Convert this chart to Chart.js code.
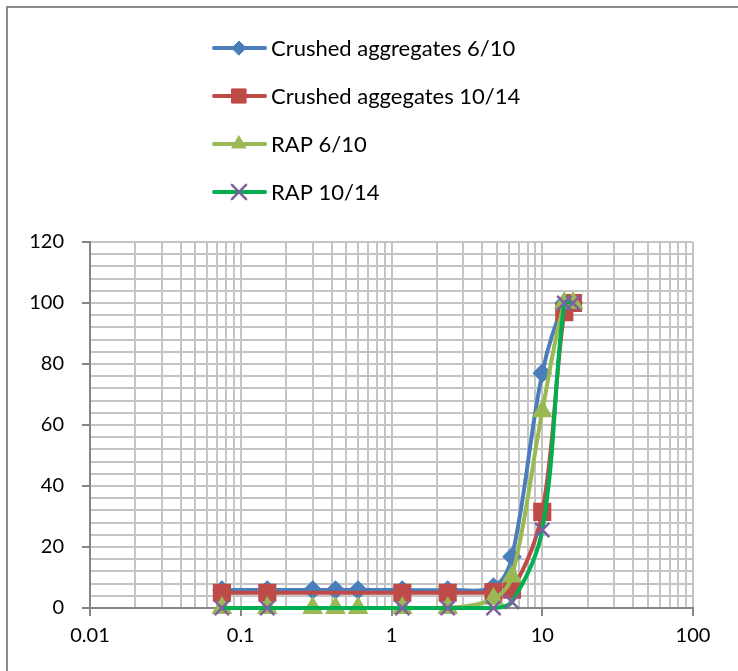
<!DOCTYPE html>
<html>
<head>
<meta charset="utf-8">
<script src="https://cdn.jsdelivr.net/npm/chart.js@4.4.1/dist/chart.umd.min.js"></script>
<style>
  html, body { margin: 0; padding: 0; background: #fff; }
  #wrap { width: 738px; height: 671px; position: relative; }
</style>
</head>
<body>
<div id="wrap"><canvas id="gradingChart" width="738" height="671"></canvas></div>
<script>
// sieve sizes (mm)
const sizes610 = [0.075, 0.15, 0.3, 0.425, 0.6, 1.18, 2.36, 4.75, 6.3, 10, 14, 16];
const sizes1014 = [0.075, 0.15, 1.18, 2.36, 4.75, 6.3, 10, 14, 16];

// percent passing
const crushed610 = [5.9, 5.9, 5.9, 5.9, 5.9, 5.9, 5.9, 6.9, 16.8, 77, 100, 100];
const crushed1014 = [5, 5, 5, 5, 5.2, 6, 31.5, 97, 100];
const rap610 = [0, 0, 0, 0, 0, 0, 0, 3, 10.3, 64.5, 100, 100];
const rap1014 = [0, 0, 0, 0, 0, 2, 25.6, 100, 100];

const seriesNames = ['Crushed aggregates 6/10', 'Crushed aggegates 10/14', 'RAP 6/10', 'RAP 10/14'];
const yMajor = [0, 20, 40, 60, 80, 100, 120];
const xMajor = [0.01, 0.1, 1, 10, 100];

const FONT = 'Lato, "Open Sans", sans-serif';
const toPoints = (xs, ys) => xs.map((x, i) => ({ x: x, y: ys[i] }));

// Legend drawn by hand: one item per line, like the original
const stackedLegend = {
    id: 'stackedLegend',
    afterDraw(chart) {
        const ctx = chart.ctx;
        ctx.save();
        chart.data.datasets.forEach((ds, i) => {
            const y = 48 + i * 48;
            ctx.strokeStyle = ds.borderColor;
            ctx.lineWidth = 4;
            ctx.lineCap = 'round';
            ctx.beginPath();
            ctx.moveTo(214, y);
            ctx.lineTo(265, y);
            ctx.stroke();
            ctx.fillStyle = ds.pointBackgroundColor;
            ctx.strokeStyle = ds.pointBorderColor;
            ctx.lineWidth = ds.pointBorderWidth || 1;
            Chart.helpers.drawPoint(ctx, {
                pointStyle: ds.pointStyle,
                radius: ds.pointRadius,
                rotation: 0,
                borderWidth: ds.pointBorderWidth || 1
            }, 239, y);
            ctx.fillStyle = '#000';
            ctx.font = '22px ' + FONT;
            ctx.textBaseline = 'middle';
            ctx.textAlign = 'left';
            ctx.fillText(seriesNames[i], 271, y + 1);
        });
        // outer frame
        ctx.strokeStyle = '#8c8c8c';
        ctx.lineWidth = 2;
        ctx.strokeRect(7, 7, 760, 700);
        ctx.restore();
    }
};

const gridColor = '#c4c4c4';

new Chart(document.getElementById('gradingChart').getContext('2d'), {
    type: 'line',
    data: {
        datasets: [
            {
                label: seriesNames[0],
                data: toPoints(sizes610, crushed610),
                borderColor: '#4a7ebb',
                backgroundColor: '#4a7ebb',
                pointBackgroundColor: '#4a7ebb',
                pointBorderColor: '#4a7ebb',
                pointStyle: 'rectRot',
                pointRadius: 7,
                borderWidth: 4,
                tension: 0.35,
                clip: false,
                order: 4
            },
            {
                label: seriesNames[1],
                data: toPoints(sizes1014, crushed1014),
                borderColor: '#be4b48',
                backgroundColor: '#be4b48',
                pointBackgroundColor: '#be4b48',
                pointBorderColor: '#be4b48',
                pointStyle: 'rect',
                pointRadius: 10,
                borderWidth: 4,
                tension: 0.35,
                clip: false,
                order: 3
            },
            {
                label: seriesNames[2],
                data: toPoints(sizes610, rap610),
                borderColor: '#98b954',
                backgroundColor: '#98b954',
                pointBackgroundColor: '#98b954',
                pointBorderColor: '#98b954',
                pointStyle: 'triangle',
                pointRadius: 8,
                borderWidth: 4,
                tension: 0.35,
                clip: false,
                order: 2
            },
            {
                label: seriesNames[3],
                data: toPoints(sizes1014, rap1014),
                borderColor: '#00b050',
                backgroundColor: '#7d60a0',
                pointBackgroundColor: '#7d60a0',
                pointBorderColor: '#7d60a0',
                pointBorderWidth: 2.5,
                pointStyle: 'crossRot',
                pointRadius: 10,
                borderWidth: 4,
                tension: 0.35,
                clip: false,
                order: 1
            }
        ]
    },
    options: {
        responsive: false,
        animation: false,
        layout: { padding: { top: 242, right: 45, left: 0, bottom: 0 } },
        plugins: {
            legend: { display: false },
            tooltip: { enabled: false }
        },
        scales: {
            x: {
                type: 'logarithmic',
                min: 0.01,
                max: 100,
                afterBuildTicks(scale) {
                    const ticks = [];
                    for (let e = -2; e < 2; e++) {
                        for (let m = 1; m < 10; m++) ticks.push({ value: m * Math.pow(10, e) });
                    }
                    ticks.push({ value: 100 });
                    scale.ticks = ticks;
                },
                afterFit(scale) { scale.height = 63; },
                border: { color: '#868686', width: 2 },
                grid: {
                    color: gridColor,
                    lineWidth: 2,
                    tickLength: 8,
                    tickColor: ctx => xMajor.some(v => Math.abs(v - ctx.tick.value) < 1e-9) ? '#868686' : 'rgba(0,0,0,0)'
                },
                ticks: {
                    autoSkip: false,
                    maxRotation: 0,
                    padding: 8,
                    color: '#000',
                    font: { family: FONT, size: 20 },
                    callback: (v) => xMajor.some(m => Math.abs(m - v) < 1e-9) ? String(v) : ''
                }
            },
            y: {
                min: 0,
                max: 120,
                afterFit(scale) { scale.width = 90; },
                border: { color: '#868686', width: 2 },
                grid: {
                    color: gridColor,
                    lineWidth: 2,
                    tickLength: 8,
                    tickColor: ctx => yMajor.includes(ctx.tick.value) ? '#868686' : 'rgba(0,0,0,0)'
                },
                ticks: {
                    stepSize: 4,
                    autoSkip: false,
                    padding: 18,
                    color: '#000',
                    font: { family: FONT, size: 20 },
                    callback: (v) => yMajor.includes(v) ? String(v) : ''
                }
            }
        }
    },
    plugins: [stackedLegend]
});
</script>
</body>
</html>
